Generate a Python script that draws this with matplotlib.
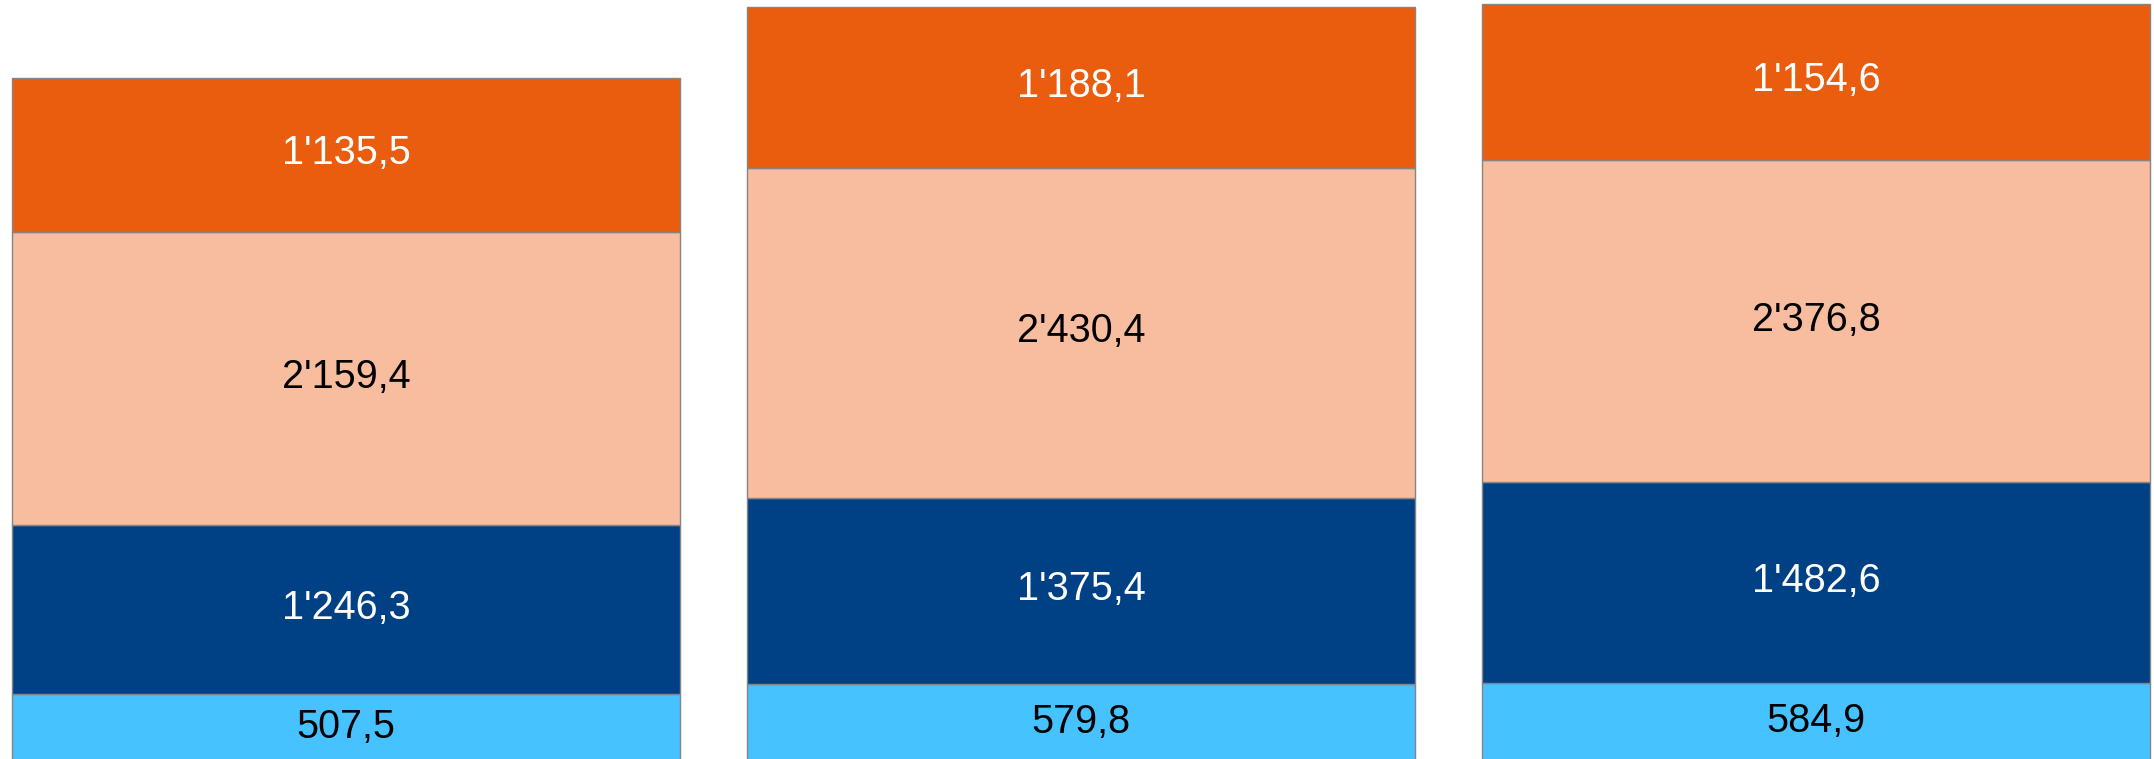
import matplotlib
matplotlib.use("Agg")
import matplotlib.pyplot as plt
import numpy as np

categories = ["A", "B", "C"]
light_blue = [507.5, 579.8, 584.9]
dark_blue = [1246.3, 1375.4, 1482.6]
peach = [2159.4, 2430.4, 2376.8]
orange = [1135.5, 1188.1, 1154.6]

series = [
    (light_blue, "#45C2FF", "black"),
    (dark_blue, "#004084", "white"),
    (peach, "#F8BD9E", "black"),
    (orange, "#EA5D0E", "white"),
]

def fmt(v):
    s = f"{v:,.1f}"
    return s.replace(",", "'").replace(".", ",")

plt.rcParams['font.family'] = ['Liberation Sans', 'DejaVu Sans']
fig = plt.figure(figsize=(21.54, 7.59), dpi=100)
ax = fig.add_axes([0, 0, 1, 1])
x = np.arange(len(categories))
bottom = np.zeros(len(categories))
for vals, color, tcolor in series:
    vals = np.array(vals)
    ax.bar(x, vals, bottom=bottom, width=0.9088, color=color,
           edgecolor="#858585", linewidth=1.0)
    for xi, b, v in zip(x, bottom, vals):
        ax.text(xi, b + v / 2 + 12, fmt(v), ha="center", va="center",
                color=tcolor, fontsize=28.5)
    bottom += vals

ax.set_xlim(-0.4707, 2.4599)
ax.set_ylim(27, 5625)
ax.axis("off")
fig.savefig("out.png", dpi=100)
